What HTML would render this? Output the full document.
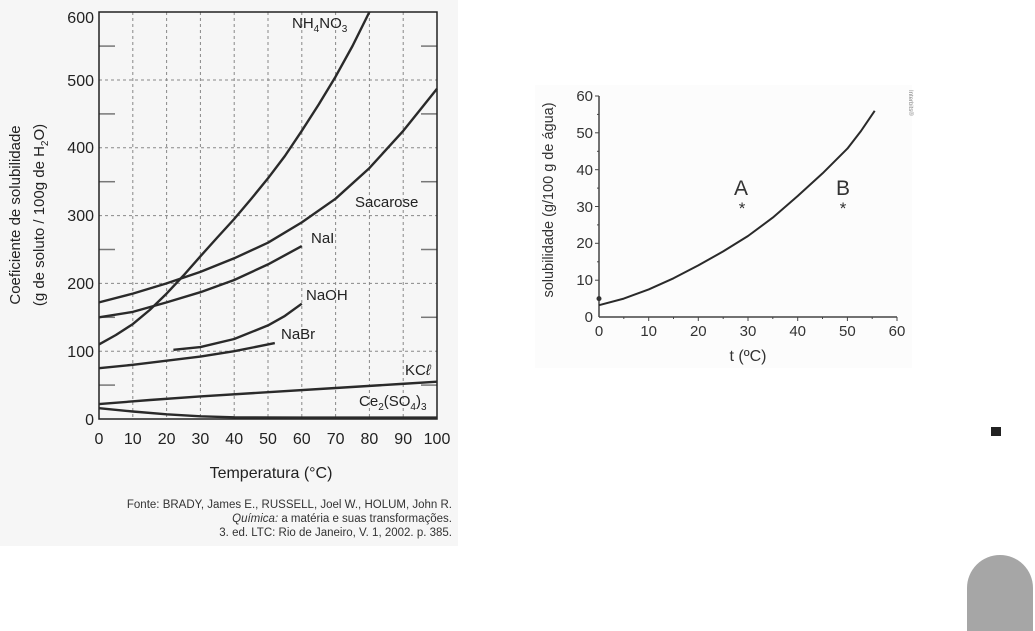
<!DOCTYPE html>
<html><head><meta charset="utf-8"><style>
html,body{margin:0;padding:0;background:#fff;width:1035px;height:631px;overflow:hidden}
svg{display:block;font-family:"Liberation Sans",sans-serif}
</style></head><body>
<svg width="1035" height="631" viewBox="0 0 1035 631" xmlns="http://www.w3.org/2000/svg">
<rect x="0" y="0" width="458" height="546" fill="#f6f6f6"/>
<rect x="535" y="85" width="377" height="283" fill="#fcfcfc"/>
<g stroke="#888" stroke-width="1" stroke-dasharray="3,3">
<line x1="99" y1="351.2" x2="437" y2="351.2"/><line x1="99" y1="283.4" x2="437" y2="283.4"/>
<line x1="99" y1="215.6" x2="437" y2="215.6"/><line x1="99" y1="147.8" x2="437" y2="147.8"/>
<line x1="99" y1="80" x2="437" y2="80"/>
<line x1="132.8" y1="12" x2="132.8" y2="419"/><line x1="166.6" y1="12" x2="166.6" y2="419"/>
<line x1="200.4" y1="12" x2="200.4" y2="419"/><line x1="234.2" y1="12" x2="234.2" y2="419"/>
<line x1="268" y1="12" x2="268" y2="419"/><line x1="301.8" y1="12" x2="301.8" y2="419"/>
<line x1="335.6" y1="12" x2="335.6" y2="419"/><line x1="369.4" y1="12" x2="369.4" y2="419"/>
<line x1="403.2" y1="12" x2="403.2" y2="419"/>
</g>
<g stroke="#777" stroke-width="1.5">
<line x1="99" y1="385.1" x2="115" y2="385.1"/><line x1="421" y1="385.1" x2="437" y2="385.1"/>
<line x1="99" y1="317.3" x2="115" y2="317.3"/><line x1="421" y1="317.3" x2="437" y2="317.3"/>
<line x1="99" y1="249.5" x2="115" y2="249.5"/><line x1="421" y1="249.5" x2="437" y2="249.5"/>
<line x1="99" y1="181.7" x2="115" y2="181.7"/><line x1="421" y1="181.7" x2="437" y2="181.7"/>
<line x1="99" y1="113.9" x2="115" y2="113.9"/><line x1="421" y1="113.9" x2="437" y2="113.9"/>
<line x1="99" y1="46.1" x2="115" y2="46.1"/><line x1="421" y1="46.1" x2="437" y2="46.1"/>
</g>
<rect x="99" y="12" width="338" height="407" fill="none" stroke="#222" stroke-width="1.5"/>
<g fill="none" stroke="#2a2a2a" stroke-width="2.4" stroke-linejoin="round">
<polyline points="99,344.4 115.9,335 132.8,324.1 149.7,310 166.6,293.6 183.5,275.5 200.4,256.3 217.3,237.5 234.2,219 251.1,199 268,178.3 284.9,156 301.8,130.8 318.7,104.5 335.6,76.6 352.5,46 369.4,12"/>
<polyline points="99,302.4 132.8,293.6 166.6,283.4 200.4,271.9 234.2,258.3 268,242.7 301.8,222.4 335.6,198.7 369.4,168.1 403.2,130.9 420,110 437,88.8"/>
<polyline points="99,317.3 132.8,311.9 166.6,302.4 200.4,292.2 234.2,280 268,264.4 301.8,246.1"/>
<polyline points="173.4,349.8 200.4,347.1 234.2,339 268,325.4 284.9,315.9 301.8,303.7"/>
<polyline points="99,368.2 132.8,364.8 166.6,360.7 200.4,356.6 234.2,351.2 274.8,343.1"/>
<polyline points="99,404.1 150,400 200,396.4 268,392.2 335.6,388 400,384 437,381.7"/>
<polyline points="99,408.2 132.8,411.5 166.6,414.3 200.4,416.3 234.2,417.3 301.8,417.6 437,417.6"/>
</g>
<g font-size="15" fill="#222">
<text x="292" y="28">NH<tspan font-size="10" dy="4">4</tspan><tspan dy="-4">NO</tspan><tspan font-size="10" dy="4">3</tspan></text>
<text x="355" y="207">Sacarose</text>
<text x="311" y="243">NaI</text>
<text x="306" y="300">NaOH</text>
<text x="281" y="339">NaBr</text>
<text x="405" y="375">KC<tspan font-style="italic">ℓ</tspan></text>
<text x="359" y="406">Ce<tspan font-size="10" dy="4">2</tspan><tspan dy="-4">(SO</tspan><tspan font-size="10" dy="4">4</tspan><tspan dy="-4">)</tspan><tspan font-size="10" dy="4">3</tspan></text>
</g>
<g font-size="16" fill="#222" text-anchor="end">
<text x="94" y="23">600</text><text x="94" y="86">500</text><text x="94" y="153">400</text>
<text x="94" y="221">300</text><text x="94" y="289">200</text><text x="94" y="357">100</text><text x="94" y="425">0</text>
</g>
<g font-size="16" fill="#222" text-anchor="middle">
<text x="99" y="444">0</text><text x="132.8" y="444">10</text><text x="166.6" y="444">20</text>
<text x="200.4" y="444">30</text><text x="234.2" y="444">40</text><text x="268" y="444">50</text>
<text x="301.8" y="444">60</text><text x="335.6" y="444">70</text><text x="369.4" y="444">80</text>
<text x="403.2" y="444">90</text><text x="437" y="444">100</text>
<text x="271" y="478">Temperatura (°C)</text>
</g>
<g font-size="15" fill="#222" text-anchor="middle">
<text transform="translate(20,215) rotate(-90)">Coeficiente de solubilidade</text>
<text transform="translate(44,215) rotate(-90)">(g de soluto / 100g de H<tspan font-size="10" dy="4">2</tspan><tspan dy="-4">O)</tspan></text>
</g>
<g font-size="11.5" fill="#333" text-anchor="end">
<text x="452" y="508">Fonte: BRADY, James E., RUSSELL, Joel W., HOLUM, John R.</text>
<text x="452" y="522"><tspan font-style="italic">Química:</tspan> a matéria e suas transformações.</text>
<text x="452" y="536">3. ed. LTC: Rio de Janeiro, V. 1, 2002. p. 385.</text>
</g>
<g stroke="#444" stroke-width="1.5" fill="none">
<line x1="599" y1="96" x2="599" y2="317"/><line x1="599" y1="317" x2="897" y2="317"/>
</g>
<g stroke="#444" stroke-width="1">
<line x1="595" y1="96" x2="599" y2="96"/><line x1="595" y1="132.8" x2="599" y2="132.8"/>
<line x1="595" y1="169.7" x2="599" y2="169.7"/><line x1="595" y1="206.5" x2="599" y2="206.5"/>
<line x1="595" y1="243.3" x2="599" y2="243.3"/><line x1="595" y1="280.2" x2="599" y2="280.2"/>
<line x1="597" y1="114.4" x2="599" y2="114.4"/><line x1="597" y1="151.3" x2="599" y2="151.3"/>
<line x1="597" y1="188.1" x2="599" y2="188.1"/><line x1="597" y1="224.9" x2="599" y2="224.9"/>
<line x1="597" y1="261.8" x2="599" y2="261.8"/><line x1="597" y1="298.6" x2="599" y2="298.6"/>
<line x1="648.7" y1="317" x2="648.7" y2="321"/><line x1="698.3" y1="317" x2="698.3" y2="321"/>
<line x1="748" y1="317" x2="748" y2="321"/><line x1="797.7" y1="317" x2="797.7" y2="321"/>
<line x1="847.4" y1="317" x2="847.4" y2="321"/><line x1="897" y1="317" x2="897" y2="321"/>
<line x1="623.8" y1="317" x2="623.8" y2="319"/><line x1="673.5" y1="317" x2="673.5" y2="319"/>
<line x1="723.2" y1="317" x2="723.2" y2="319"/><line x1="772.8" y1="317" x2="772.8" y2="319"/>
<line x1="822.5" y1="317" x2="822.5" y2="319"/><line x1="872.2" y1="317" x2="872.2" y2="319"/>
</g>
<polyline points="599,305.2 623.8,298.6 648.7,289.4 673.5,278.3 698.3,265.4 723.2,251.4 748,236 772.8,217.6 797.7,196 822.5,173.4 847.4,148.6 861,131 874.7,110.8" fill="none" stroke="#2a2a2a" stroke-width="2" stroke-linejoin="round"/>
<circle cx="599" cy="298.6" r="2.5" fill="#333"/>
<g font-size="15" fill="#333" text-anchor="end">
<text x="593" y="101">60</text><text x="593" y="138">50</text><text x="593" y="175">40</text>
<text x="593" y="212">30</text><text x="593" y="248">20</text><text x="593" y="285">10</text><text x="593" y="322">0</text>
</g>
<g font-size="15" fill="#333" text-anchor="middle">
<text x="599" y="336">0</text><text x="648.7" y="336">10</text><text x="698.3" y="336">20</text>
<text x="748" y="336">30</text><text x="797.7" y="336">40</text><text x="847.4" y="336">50</text><text x="897" y="336">60</text>
<text x="748" y="361" font-size="16">t (ºC)</text>
<text transform="translate(553,200) rotate(-90)" font-size="14.5">solubilidade (g/100 g de água)</text>
<text x="741" y="195" font-size="21">A</text><text x="742" y="214" font-size="17">*</text>
<text x="843" y="195" font-size="21">B</text><text x="843" y="214" font-size="17">*</text>
</g>
<text transform="translate(909,90) rotate(90)" font-size="6" fill="#888">Interbits®</text>
<rect x="991" y="427" width="10" height="9" fill="#222"/>
<path d="M967,631 L967,588 A33,33 0 0 1 1033,588 L1033,631 Z" fill="#a6a6a6"/>
</svg>
</body></html>
